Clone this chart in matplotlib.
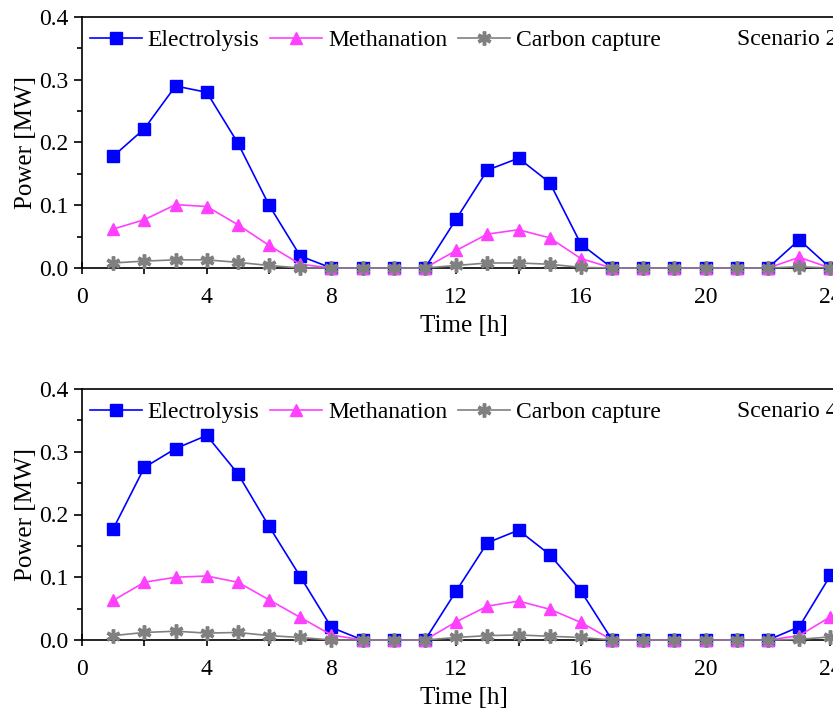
import matplotlib.pyplot as plt
from matplotlib.ticker import MultipleLocator

hours = list(range(1, 25))

# Scenario 2
elec_s2 = [0.178, 0.222, 0.290, 0.280, 0.199, 0.100, 0.019, 0, 0, 0, 0, 0.078,
           0.156, 0.175, 0.136, 0.038, 0, 0, 0, 0, 0, 0, 0.045, 0]
meth_s2 = [0.062, 0.077, 0.101, 0.098, 0.069, 0.036, 0.006, 0, 0, 0, 0, 0.028,
           0.054, 0.061, 0.048, 0.015, 0, 0, 0, 0, 0, 0, 0.017, 0]
cc_s2 = [0.008, 0.011, 0.013, 0.013, 0.009, 0.004, 0, 0, 0, 0, 0, 0.004,
         0.008, 0.008, 0.006, 0.001, 0, 0, 0, 0, 0, 0, 0.002, 0]

# Scenario 4
elec_s4 = [0.177, 0.275, 0.305, 0.326, 0.265, 0.181, 0.101, 0.020, 0, 0, 0, 0.078,
           0.155, 0.175, 0.136, 0.078, 0, 0, 0, 0, 0, 0, 0.021, 0.103]
meth_s4 = [0.063, 0.092, 0.100, 0.102, 0.092, 0.064, 0.036, 0.008, 0, 0, 0, 0.029,
           0.054, 0.062, 0.049, 0.028, 0, 0, 0, 0, 0, 0, 0.007, 0.037]
cc_s4 = [0.007, 0.012, 0.014, 0.011, 0.012, 0.007, 0.004, 0, 0, 0, 0, 0.004,
         0.007, 0.008, 0.006, 0.004, 0, 0, 0, 0, 0, 0, 0.001, 0.005]

panels = [("Scenario 2", elec_s2, meth_s2, cc_s2),
          ("Scenario 4", elec_s4, meth_s4, cc_s4)]

plt.rcParams['font.family'] = ['Liberation Serif', 'DejaVu Serif']
plt.rcParams['font.size'] = 17

fig = plt.figure(figsize=(8.33, 7.08), dpi=100)
W, H = 833, 708
x0, xr = 82, 846
rects = [(17, 268), (389, 640)]

for (top, bot), (name, elec, meth, cc) in zip(rects, panels):
    ax = fig.add_axes([x0 / W, (H - bot) / H, (xr - x0) / W, (bot - top) / H])
    ax.plot(hours, elec, color='#0000ff', marker='s', markersize=8, lw=1.2,
            label='Electrolysis', clip_on=False, zorder=3)
    ax.plot(hours, meth, color='#ff40ff', marker='^', markersize=9, lw=1.2,
            label='Methanation', clip_on=False, zorder=4)
    ax.plot(hours, cc, color='#808080', marker=(6, 2, 0), markersize=10, mew=2.5,
            lw=1.2, label='Carbon capture', clip_on=False, zorder=5)

    ax.set_xlim(0, 24.5)
    ax.set_ylim(0, 0.4)
    ax.xaxis.set_major_locator(MultipleLocator(4))
    ax.xaxis.set_minor_locator(MultipleLocator(2))
    ax.yaxis.set_major_locator(MultipleLocator(0.1))
    ax.yaxis.set_minor_locator(MultipleLocator(0.05))
    ax.yaxis.set_major_formatter(plt.FuncFormatter(lambda v, p: f"{v:.1f}"))
    ax.tick_params(axis='x', which='major', direction='inout', length=9, width=1.2, pad=9)
    ax.tick_params(axis='x', which='minor', direction='out', length=4, width=1.2)
    ax.tick_params(axis='y', which='major', direction='out', length=6, width=1.2, pad=4)
    ax.tick_params(axis='y', which='minor', direction='out', length=3.5, width=1.2)
    ax.tick_params(labelsize=17)
    for s in ax.spines.values():
        s.set_linewidth(1.2)

    ax.set_xlabel('Time [h]', fontsize=18, labelpad=5)
    ax.set_ylabel('Power [MW]', fontsize=18, labelpad=1)
    ax.legend(loc='upper left', ncol=3, frameon=False, fontsize=17,
              handlelength=2.2, handletextpad=0.25, columnspacing=0.45,
              borderaxespad=0.0, bbox_to_anchor=(-0.002, 0.988))
    ax.text(21.0, 0.3645, name, fontsize=17, va='center', ha='left')

fig.savefig('out.png', dpi=100)
